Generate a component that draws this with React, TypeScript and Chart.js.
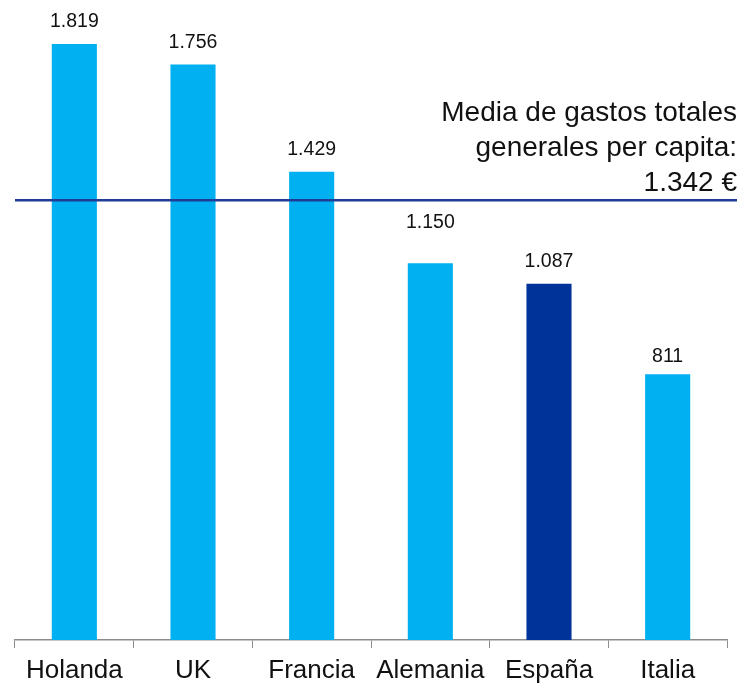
import React, { useEffect, useRef } from "react";
import { Chart, registerables } from "chart.js";

Chart.register(...registerables);

const categories = ["Holanda", "UK", "Francia", "Alemania", "España", "Italia"];
const values = [1819, 1756, 1429, 1150, 1087, 811];
const valueLabels = ["1.819", "1.756", "1.429", "1.150", "1.087", "811"];
const averageValue = 1342;
const averageText = ["Media de gastos totales", "generales per capita:", "1.342 €"];
const highlightCategory = "España";

const FONT = "'Liberation Sans', Arial, Helvetica, sans-serif";
const LIGHT = "#00B0F0";
const DARK = "#003399";
const LINE = "#1F3C96";
const labelOffsets = [22, 22, 22, 41, 22, 18];

const overlayPlugin = {
  id: "overlay",
  afterDatasetsDraw(chart: any) {
    const ctx = chart.ctx;
    const meta = chart.getDatasetMeta(0);
    ctx.save();
    ctx.fillStyle = "#111";
    ctx.font = `19.5px ${FONT}`;
    ctx.textAlign = "center";
    ctx.textBaseline = "middle";
    meta.data.forEach((bar: any, i: number) => {
      ctx.fillText(valueLabels[i], bar.x, bar.y - labelOffsets[i]);
    });
    const y = chart.scales.y.getPixelForValue(averageValue);
    ctx.strokeStyle = LINE;
    ctx.lineWidth = 2.5;
    ctx.beginPath();
    ctx.moveTo(chart.chartArea.left, y);
    ctx.lineTo(chart.width - 2, y);
    ctx.stroke();
    ctx.font = `28px ${FONT}`;
    ctx.textAlign = "right";
    ctx.textBaseline = "alphabetic";
    ctx.fillStyle = "#111";
    const x = chart.width - 2;
    averageText.forEach((t, i) => {
      ctx.fillText(t, x, y - 9 - (averageText.length - 1 - i) * 35);
    });
    ctx.restore();
  },
};

export default function App() {
  const ref = useRef<HTMLCanvasElement>(null);
  useEffect(() => {
    if (!ref.current) return;
    const chart = new Chart(ref.current, {
      type: "bar",
      data: {
        labels: categories,
        datasets: [
          {
            data: values,
            backgroundColor: categories.map((c) => (c === highlightCategory ? DARK : LIGHT)),
            categoryPercentage: 1,
            barPercentage: 0.38,
          },
        ],
      },
      options: {
        animation: false,
        responsive: false,
        maintainAspectRatio: false,
        layout: { padding: { left: 15, right: 12, top: 1, bottom: 0 } },
        plugins: { legend: { display: false }, tooltip: { enabled: false } },
        scales: {
          x: {
            grid: { drawOnChartArea: false, drawTicks: true, tickLength: 8, color: "#8c8c8c", offset: true },
            border: { display: true, color: "#8c8c8c", width: 1.5 },
            ticks: { color: "#111", font: { family: FONT, size: 26 }, padding: 7, maxRotation: 0, autoSkip: false },
            afterFit: (scale: any) => {
              scale.height = 43;
            },
          },
          y: { display: false, min: 0, max: 1950 },
        },
      },
      plugins: [overlayPlugin],
    });
    return () => chart.destroy();
  }, []);
  return (
    <div style={{ position: "fixed", left: 0, top: 0, width: 739, height: 683, background: "#fff" }}>
      <canvas ref={ref} width={739} height={683} style={{ width: 739, height: 683 }} />
    </div>
  );
}
